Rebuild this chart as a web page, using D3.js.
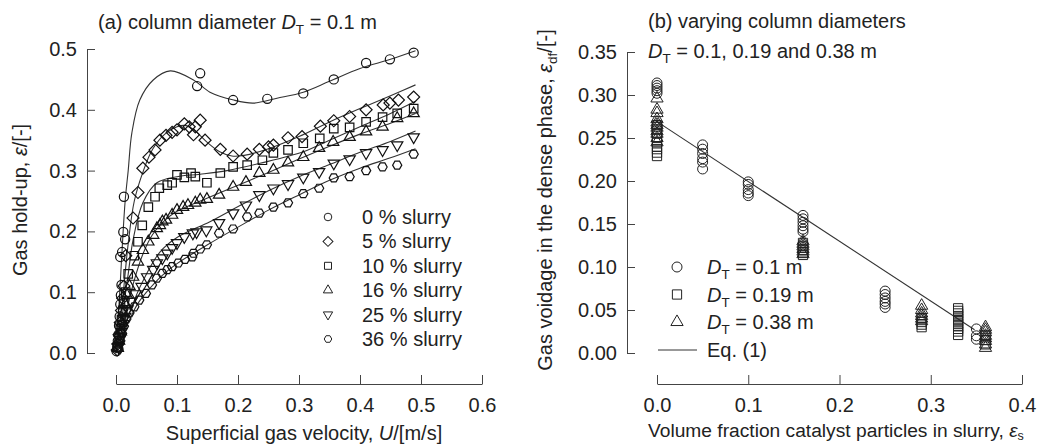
<!DOCTYPE html>
<html>
<head>
<meta charset="utf-8">
<script src="https://cdn.jsdelivr.net/npm/d3@7"></script>
<style>
  body { margin: 0; background: #fff; }
  svg text { font-family: "Liberation Sans", Arial, sans-serif; fill: #222; }
</style>
</head>
<body>
<div id="chart"></div>
<script>
// ---- data ----
// panel (a): gas hold-up vs superficial gas velocity, one array per slurry
var slurryLabels = ["0 % slurry", "5 % slurry", "10 % slurry", "16 % slurry", "25 % slurry", "36 % slurry"];
var slurryShapes = ["circle", "diamond", "square", "triangle", "triangleDown", "hexagon"];

var pts0 = [[0.001,0.003],[0.002,0.01],[0.003,0.02],[0.004,0.03],[0.005,0.045],[0.006,0.06],[0.007,0.08],[0.008,0.095],
  [0.009,0.112],[0.007,0.158],[0.01,0.166],[0.012,0.199],[0.015,0.187],[0.013,0.257],[0.133,0.439],[0.138,0.46],
  [0.192,0.416],[0.248,0.418],[0.307,0.427],[0.357,0.45],[0.41,0.477],[0.449,0.483],[0.488,0.494]];
var pts5 = [[0.002,0.005],[0.003,0.015],[0.005,0.03],[0.007,0.05],[0.009,0.07],[0.011,0.09],[0.013,0.11],[0.016,0.16],
  [0.028,0.222],[0.036,0.264],[0.044,0.304],[0.054,0.322],[0.064,0.334],[0.072,0.35],[0.082,0.358],[0.092,0.363],
  [0.1,0.367],[0.112,0.377],[0.12,0.372],[0.127,0.359],[0.13,0.372],[0.138,0.383],[0.146,0.35],[0.171,0.335],
  [0.192,0.324],[0.215,0.327],[0.235,0.335],[0.25,0.339],[0.258,0.342],[0.282,0.354],[0.305,0.356],[0.335,0.373],
  [0.357,0.382],[0.383,0.389],[0.41,0.4],[0.438,0.408],[0.449,0.411],[0.463,0.416],[0.488,0.421]];
var pts10 = [[0.003,0.01],[0.005,0.025],[0.007,0.04],[0.009,0.055],[0.011,0.07],[0.013,0.085],[0.016,0.1],[0.02,0.13],
  [0.03,0.16],[0.036,0.183],[0.043,0.21],[0.053,0.24],[0.064,0.257],[0.071,0.271],[0.084,0.276],[0.092,0.28],
  [0.1,0.293],[0.112,0.289],[0.123,0.296],[0.13,0.29],[0.149,0.28],[0.171,0.296],[0.192,0.306],[0.215,0.309],
  [0.24,0.317],[0.258,0.329],[0.282,0.334],[0.307,0.345],[0.334,0.353],[0.357,0.369],[0.383,0.371],[0.41,0.38],
  [0.437,0.388],[0.461,0.394],[0.488,0.402]];
var pts16 = [[0.003,0.008],[0.005,0.02],[0.008,0.035],[0.01,0.05],[0.012,0.065],[0.015,0.08],[0.018,0.095],[0.022,0.11],
  [0.028,0.125],[0.036,0.15],[0.044,0.169],[0.053,0.183],[0.061,0.194],[0.067,0.205],[0.072,0.21],[0.076,0.216],
  [0.082,0.219],[0.092,0.227],[0.1,0.235],[0.11,0.24],[0.118,0.243],[0.13,0.247],[0.138,0.252],[0.149,0.253],
  [0.169,0.26],[0.192,0.273],[0.213,0.281],[0.235,0.296],[0.258,0.301],[0.282,0.313],[0.307,0.322],[0.333,0.337],
  [0.356,0.347],[0.383,0.355],[0.41,0.364],[0.437,0.372],[0.461,0.386],[0.488,0.394]];
var pts25 = [[0.004,0.01],[0.006,0.022],[0.009,0.035],[0.012,0.048],[0.015,0.06],[0.019,0.072],[0.025,0.085],[0.032,0.097],
  [0.042,0.109],[0.051,0.125],[0.061,0.137],[0.067,0.148],[0.076,0.156],[0.084,0.164],[0.092,0.173],[0.1,0.181],
  [0.112,0.191],[0.126,0.197],[0.132,0.199],[0.148,0.202],[0.169,0.214],[0.192,0.23],[0.213,0.243],[0.235,0.26],
  [0.258,0.271],[0.282,0.278],[0.307,0.289],[0.333,0.298],[0.357,0.312],[0.383,0.319],[0.41,0.329],[0.437,0.334],
  [0.461,0.342],[0.488,0.355]];
var pts36 = [[0.004,0.008],[0.007,0.02],[0.01,0.032],[0.013,0.044],[0.017,0.056],[0.022,0.066],[0.03,0.076],[0.038,0.087],
  [0.049,0.098],[0.059,0.112],[0.067,0.123],[0.076,0.131],[0.084,0.137],[0.092,0.142],[0.102,0.148],[0.113,0.154],
  [0.125,0.158],[0.127,0.164],[0.138,0.171],[0.149,0.178],[0.169,0.197],[0.192,0.204],[0.215,0.224],[0.235,0.23],
  [0.258,0.24],[0.282,0.247],[0.307,0.262],[0.333,0.271],[0.357,0.288],[0.383,0.29],[0.41,0.3],[0.437,0.306],
  [0.461,0.309],[0.488,0.327]];

// fitted curves (traced)
var fit0 = [[0,0],[0.005,0.08],[0.01,0.17],[0.015,0.25],[0.02,0.3],[0.026,0.362],[0.039,0.416],[0.061,0.449],[0.089,0.464],
  [0.127,0.449],[0.154,0.429],[0.193,0.416],[0.225,0.411],[0.264,0.419],[0.307,0.429],[0.35,0.447],[0.4,0.468],[0.45,0.483],[0.491,0.497]];
var fit5 = [[0,0],[0.01,0.08],[0.02,0.18],[0.03,0.25],[0.045,0.3],[0.06,0.335],[0.08,0.36],[0.1,0.372],[0.115,0.374],
  [0.13,0.365],[0.15,0.346],[0.17,0.331],[0.19,0.324],[0.21,0.325],[0.25,0.336],[0.3,0.356],[0.35,0.38],[0.4,0.402],[0.45,0.423],[0.491,0.441]];
var fit10 = [[0,0],[0.01,0.06],[0.02,0.13],[0.028,0.186],[0.044,0.247],[0.067,0.28],[0.1,0.29],[0.138,0.294],[0.182,0.3],
  [0.236,0.312],[0.307,0.331],[0.35,0.35],[0.4,0.372],[0.45,0.394],[0.491,0.414]];
var fit16 = [[0,0],[0.01,0.04],[0.02,0.08],[0.03,0.12],[0.045,0.165],[0.06,0.195],[0.08,0.218],[0.1,0.233],[0.15,0.255],
  [0.2,0.276],[0.25,0.297],[0.3,0.319],[0.35,0.34],[0.4,0.36],[0.45,0.378],[0.491,0.394]];
var fit25 = [[0,0],[0.01,0.03],[0.02,0.06],[0.04,0.11],[0.072,0.166],[0.1,0.19],[0.154,0.216],[0.204,0.243],[0.25,0.267],
  [0.3,0.29],[0.35,0.31],[0.4,0.33],[0.45,0.348],[0.491,0.365]];
var fit36 = [[0,0],[0.01,0.025],[0.02,0.05],[0.035,0.08],[0.05,0.1],[0.075,0.127],[0.1,0.147],[0.15,0.178],[0.2,0.207],
  [0.25,0.235],[0.3,0.26],[0.35,0.284],[0.4,0.304],[0.45,0.321],[0.491,0.336]];

var slurryPts = [pts0, pts5, pts10, pts16, pts25, pts36];
var slurryFits = [fit0, fit5, fit10, fit16, fit25, fit36];

// panel (b): dense phase voidage vs solids fraction, per column diameter
var diamLabels = ["0.1 m", "0.19 m", "0.38 m"];
var diamShapes = ["circle", "square", "triangle"];
var d010 = [[0,0.314],[0,0.311],[0,0.308],[0,0.305],[0,0.302],
  [0.05,0.242],[0.05,0.237],[0.05,0.232],[0.05,0.226],[0.05,0.222],[0.05,0.214],
  [0.1,0.199],[0.1,0.196],[0.1,0.19],[0.1,0.186],[0.1,0.183],
  [0.16,0.16],[0.16,0.156],[0.16,0.152],[0.16,0.148],[0.16,0.144],[0.16,0.141],
  [0.25,0.072],[0.25,0.068],[0.25,0.064],[0.25,0.06],[0.25,0.057],[0.25,0.053],
  [0.35,0.028],[0.35,0.02],[0.35,0.016]];
var d019 = [[0,0.265],[0,0.26],[0,0.255],[0,0.25],[0,0.245],[0,0.24],[0,0.237],[0,0.233],[0,0.229],
  [0.16,0.128],[0.16,0.124],[0.16,0.12],[0.16,0.117],[0.16,0.114],
  [0.29,0.04],[0.29,0.036],[0.29,0.033],[0.29,0.03],
  [0.33,0.052],[0.33,0.049],[0.33,0.046],[0.33,0.043],[0.33,0.04],[0.33,0.037],[0.33,0.034],[0.33,0.031],
  [0.33,0.028],[0.33,0.025],[0.33,0.021],
  [0.36,0.02],[0.36,0.015],[0.36,0.01]];
var d038 = [[0,0.296],[0,0.283],[0,0.279],[0,0.272],[0,0.268],[0,0.265],[0,0.262],[0,0.258],[0,0.255],[0,0.25],[0,0.245],
  [0.16,0.13],[0.16,0.127],[0.16,0.124],[0.16,0.121],[0.16,0.118],[0.16,0.115],
  [0.29,0.055],[0.29,0.05],[0.29,0.046],[0.29,0.043],[0.29,0.04],[0.29,0.037],
  [0.36,0.03],[0.36,0.027],[0.36,0.024],[0.36,0.02],[0.36,0.017],[0.36,0.014],[0.36,0.01],[0.36,0.006]];
var diamPts = [d010, d019, d038];
// Eq. (1) line
var eqX = [0, 0.348];
var eqY = [0.269, 0.027];

// ---- svg ----
var svg = d3.select("#chart").append("svg")
  .attr("width", 1037)
  .attr("height", 444);

var fontSize = 20;
var subSize = 13.5;

// marker paths
function markerPath(shape, r) {
  if (shape == "circle") return d3.symbol().type(d3.symbolCircle).size(Math.PI * r * r)();
  if (shape == "square" || shape == "diamond") return d3.symbol().type(d3.symbolSquare).size(4 * r * r * 0.85)();
  if (shape == "triangle" || shape == "triangleDown") return d3.symbol().type(d3.symbolTriangle).size(r * r * 2.6)();
  // hexagon, flat top
  var p = d3.path();
  for (var i = 0; i < 6; i++) {
    var a = Math.PI / 3 * i;
    var px = r * Math.cos(a), py = r * Math.sin(a);
    if (i == 0) p.moveTo(px, py); else p.lineTo(px, py);
  }
  p.closePath();
  return p.toString();
}
function markerRot(shape) {
  if (shape == "diamond") return " rotate(45)";
  if (shape == "triangleDown") return " rotate(180)";
  return "";
}

// ================= panel (a) =================
var xA = d3.scaleLinear().domain([0, 0.6]).range([116, 482]);
var yA = d3.scaleLinear().domain([0, 0.5]).range([353, 49]);

svg.append("g")
  .attr("transform", "translate(87,0)")
  .call(d3.axisLeft(yA).tickValues([0, 0.1, 0.2, 0.3, 0.4, 0.5]).tickFormat(d3.format(".1f"))
    .tickSizeInner(-8).tickSizeOuter(0).tickPadding(10));
svg.append("g")
  .attr("transform", "translate(0,384)")
  .call(d3.axisBottom(xA).tickValues([0, 0.1, 0.2, 0.3, 0.4, 0.5, 0.6]).tickFormat(d3.format(".1f"))
    .tickSizeInner(-9).tickSizeOuter(0).tickPadding(14));

// fitted lines
var lineA = d3.line()
  .x(d => xA(d[0]))
  .y(d => yA(d[1]))
  .curve(d3.curveCatmullRom.alpha(0.5));
svg.append("g").selectAll("path")
  .data(slurryFits)
  .enter()
  .append("path")
  .attr("d", lineA)
  .attr("fill", "none")
  .attr("stroke", "#333")
  .attr("stroke-width", 1.1);

// markers
slurryPts.forEach(function(pts, i) {
  var shape = slurryShapes[i];
  svg.append("g").selectAll("path")
    .data(pts)
    .enter()
    .append("path")
    .attr("d", markerPath(shape, 4.6))
    .attr("transform", d => "translate(" + xA(d[0]) + "," + yA(d[1]) + ")" + markerRot(shape))
    .attr("fill", "none")
    .attr("stroke", "#111")
    .attr("stroke-width", 1.2);
});

// legend (a)
var legA = svg.append("g");
slurryLabels.forEach(function(lab, i) {
  var ly = 217 + i * 24.4;
  legA.append("path")
    .attr("d", markerPath(slurryShapes[i], 3.8))
    .attr("transform", "translate(328," + ly + ")" + markerRot(slurryShapes[i]))
    .attr("fill", "none")
    .attr("stroke", "#222")
    .attr("stroke-width", 1);
  legA.append("text")
    .attr("x", 362)
    .attr("y", ly + 7)
    .attr("font-size", fontSize)
    .text(lab);
});

// titles (a)
var tA = svg.append("text").attr("x", 98).attr("y", 29).attr("font-size", fontSize);
tA.append("tspan").text("(a) column diameter ");
tA.append("tspan").attr("font-style", "italic").text("D");
tA.append("tspan").attr("font-size", subSize).attr("dy", 5).text("T");
tA.append("tspan").attr("dy", -5).text(" = 0.1 m");

var xtA = svg.append("text").attr("x", 304).attr("y", 440).attr("text-anchor", "middle").attr("font-size", fontSize);
xtA.append("tspan").text("Superficial gas velocity, ");
xtA.append("tspan").attr("font-style", "italic").text("U");
xtA.append("tspan").text("/[m/s]");

var ytA = svg.append("text").attr("transform", "translate(27,200) rotate(-90)")
  .attr("text-anchor", "middle").attr("font-size", fontSize);
ytA.append("tspan").text("Gas hold-up, ");
ytA.append("tspan").attr("font-style", "italic").text("ε");
ytA.append("tspan").text("/[-]");

// ================= panel (b) =================
var xB = d3.scaleLinear().domain([0, 0.4]).range([657, 1022]);
var yB = d3.scaleLinear().domain([0, 0.35]).range([353, 52]);

svg.append("g")
  .attr("transform", "translate(627,0)")
  .call(d3.axisLeft(yB).tickValues([0, 0.05, 0.1, 0.15, 0.2, 0.25, 0.3, 0.35]).tickFormat(d3.format(".2f"))
    .tickSizeInner(-8).tickSizeOuter(0).tickPadding(10));
svg.append("g")
  .attr("transform", "translate(0,384)")
  .call(d3.axisBottom(xB).tickValues([0, 0.1, 0.2, 0.3, 0.4]).tickFormat(d3.format(".1f"))
    .tickSizeInner(-9).tickSizeOuter(0).tickPadding(14));

// Eq. (1)
svg.append("line")
  .attr("x1", xB(eqX[0])).attr("y1", yB(eqY[0]))
  .attr("x2", xB(eqX[1])).attr("y2", yB(eqY[1]))
  .attr("stroke", "#333")
  .attr("stroke-width", 1.1);

diamPts.forEach(function(pts, i) {
  var shape = diamShapes[i];
  svg.append("g").selectAll("path")
    .data(pts)
    .enter()
    .append("path")
    .attr("d", markerPath(shape, 5))
    .attr("transform", d => "translate(" + xB(d[0]) + "," + yB(d[1]) + ")")
    .attr("fill", "none")
    .attr("stroke", "#222")
    .attr("stroke-width", 1);
});

// legend (b)
var legB = svg.append("g");
diamLabels.forEach(function(lab, i) {
  var ly = 267 + i * 27.5;
  legB.append("path")
    .attr("d", markerPath(diamShapes[i], 5))
    .attr("transform", "translate(677," + ly + ")")
    .attr("fill", "none")
    .attr("stroke", "#222")
    .attr("stroke-width", 1);
  var t = legB.append("text").attr("x", 707).attr("y", ly + 7).attr("font-size", fontSize);
  t.append("tspan").attr("font-style", "italic").text("D");
  t.append("tspan").attr("font-size", subSize).attr("dy", 5).text("T");
  t.append("tspan").attr("dy", -5).text(" = " + lab);
});
legB.append("line")
  .attr("x1", 658).attr("x2", 697)
  .attr("y1", 350).attr("y2", 350)
  .attr("stroke", "#333");
legB.append("text").attr("x", 707).attr("y", 357).attr("font-size", fontSize).text("Eq. (1)");

// titles (b)
svg.append("text").attr("x", 648).attr("y", 28).attr("font-size", fontSize).text("(b) varying column diameters");
var tB = svg.append("text").attr("x", 648).attr("y", 58).attr("font-size", fontSize);
tB.append("tspan").attr("font-style", "italic").text("D");
tB.append("tspan").attr("font-size", subSize).attr("dy", 5).text("T");
tB.append("tspan").attr("dy", -5).text(" = 0.1, 0.19 and 0.38 m");

// long title, runs close to the right edge as in the reference
var xtB = svg.append("text").attr("x", 648).attr("y", 437).attr("font-size", 19.2);
xtB.append("tspan").text("Volume fraction catalyst particles in slurry, ");
xtB.append("tspan").attr("font-style", "italic").text("ε");
xtB.append("tspan").attr("font-size", 12.5).attr("dy", 3).text("s");

var ytB = svg.append("text").attr("transform", "translate(552,200) rotate(-90)")
  .attr("text-anchor", "middle").attr("font-size", fontSize);
ytB.append("tspan").text("Gas voidage in the dense phase, ");
ytB.append("tspan").attr("font-style", "italic").text("ε");
ytB.append("tspan").attr("font-size", subSize).attr("dy", 5).text("df");
ytB.append("tspan").attr("dy", -5).text("/[-]");

// axis styling
svg.selectAll(".domain, .tick line").attr("stroke", "#444");
svg.selectAll(".tick text").attr("font-size", fontSize).attr("fill", "#222")
  .attr("font-family", "'Liberation Sans', Arial, sans-serif");
</script>
</body>
</html>
